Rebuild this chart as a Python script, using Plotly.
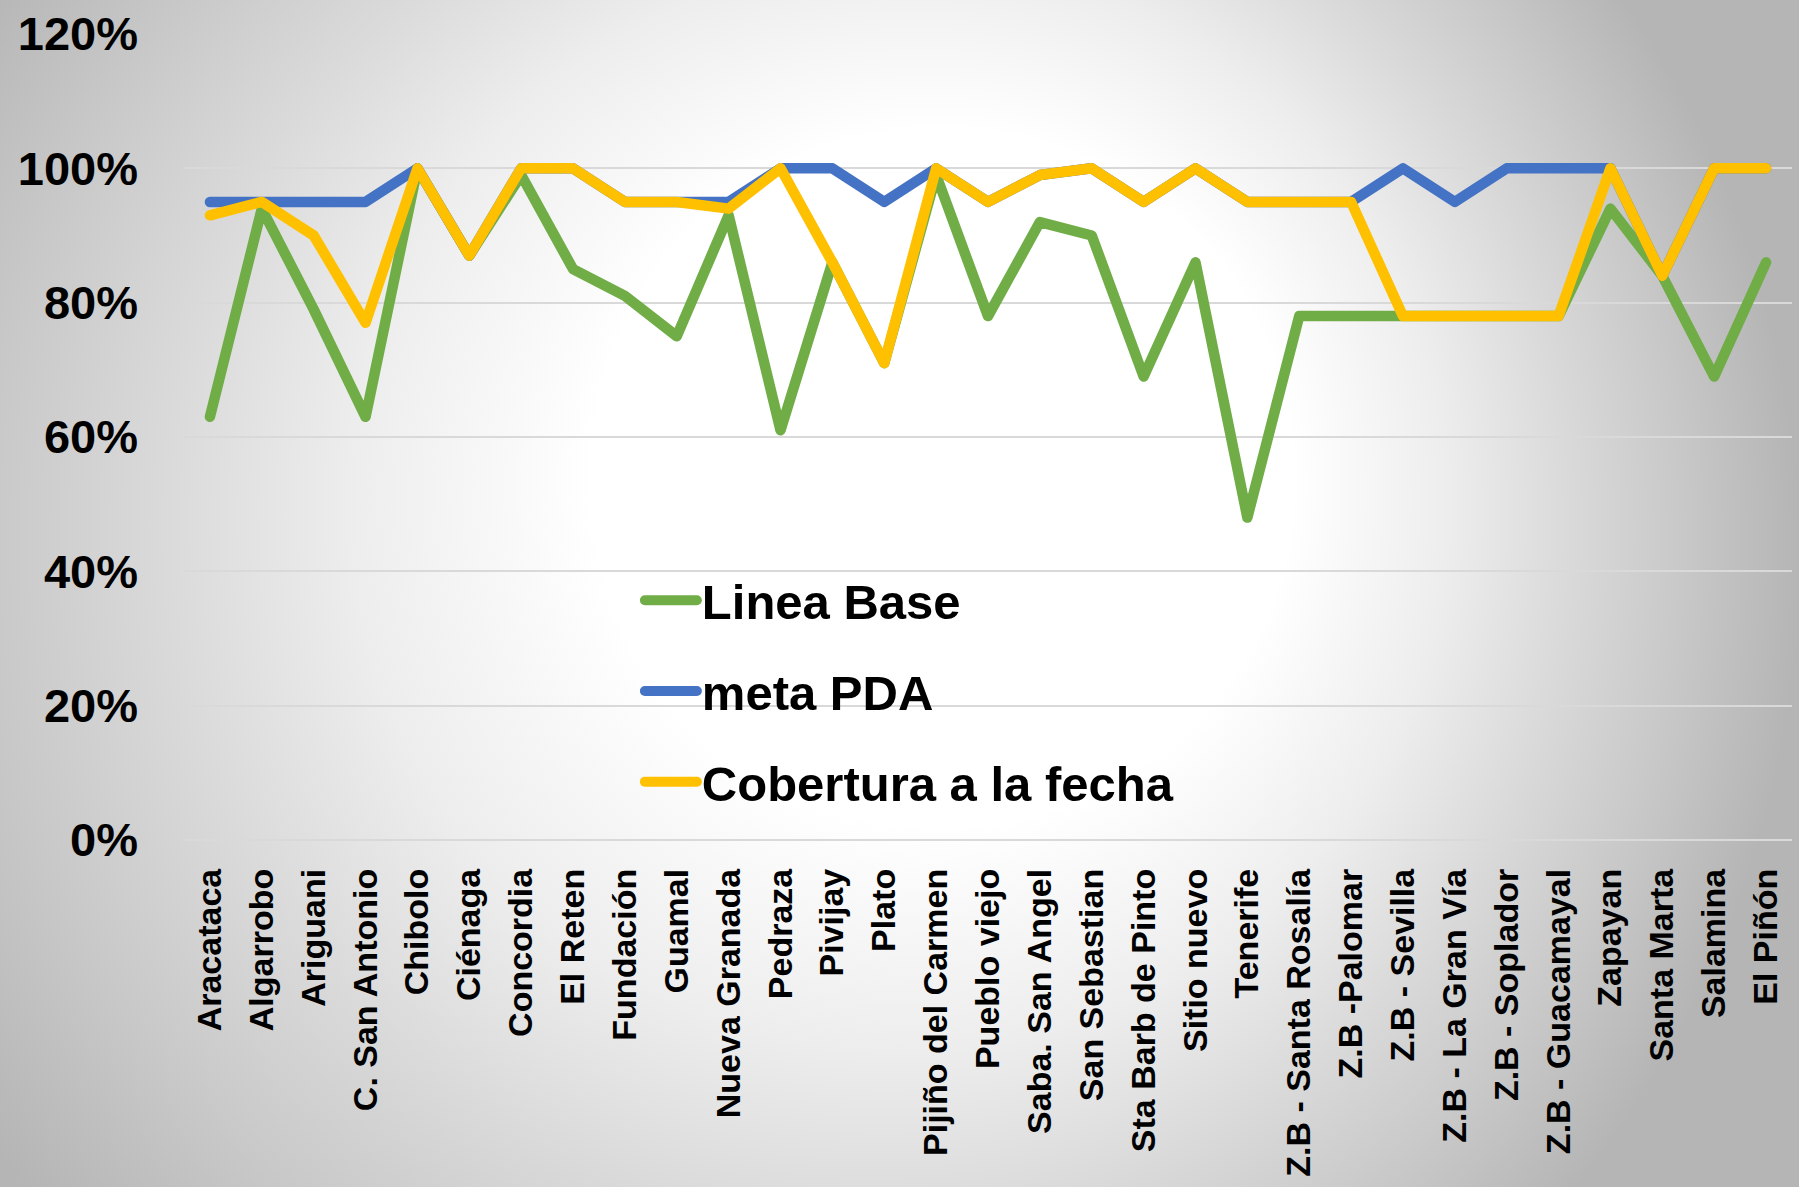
import base64
import plotly.graph_objects as go

categories = ["Aracataca", "Algarrobo", "Ariguani", "C. San Antonio", "Chibolo", "Ciénaga",
              "Concordia", "El Reten", "Fundación", "Guamal", "Nueva Granada", "Pedraza",
              "Pivijay", "Plato", "Pijiño del Carmen", "Pueblo viejo", "Saba. San Angel",
              "San Sebastian", "Sta Barb de Pinto", "Sitio nuevo", "Tenerife",
              "Z.B - Santa Rosalía", "Z.B -Palomar", "Z.B - Sevilla", "Z.B - La Gran Vía",
              "Z.B - Soplador", "Z.B - Guacamayal", "Zapayan", "Santa Marta", "Salamina",
              "El Piñón"]

linea_base = [63, 94, 79, 63, 100, 87, 99, 85, 81, 75, 93, 61, 86, 71, 99, 78, 92, 90, 69, 86,
              48, 78, 78, 78, 78, 78, 78, 94, 84, 69, 86]
meta_pda = [95, 95, 95, 95, 100, 87, 100, 100, 95, 95, 95, 100, 100, 95, 100, 95, 99, 100, 95,
            100, 95, 95, 95, 100, 95, 100, 100, 100, 84, 100, 100]
cobertura = [93, 95, 90, 77, 100, 87, 100, 100, 95, 95, 94, 100, 86, 71, 100, 95, 99, 100, 95,
             100, 95, 95, 95, 78, 78, 78, 78, 100, 84, 100, 100]

y_ticks = [0, 20, 40, 60, 80, 100, 120]

W, H = 1799, 1187
ML, MR, MT, MB = 184, 7, 29, 347
PW, PH = W - ML - MR, H - MT - MB

FONT = "Arial, 'Liberation Sans', sans-serif"

EXT = 30  # background image overhang on every side
BW, BH = W + 2 * EXT, H + 2 * EXT
svg = f'''<svg xmlns="http://www.w3.org/2000/svg" width="{BW}" height="{BH}" viewBox="0 0 {BW} {BH}" preserveAspectRatio="none">
<defs><radialGradient id="g" gradientUnits="userSpaceOnUse" cx="{800 + EXT}" cy="{560 + EXT}" r="1000" fx="{1020 + EXT}" fy="{430 + EXT}">
<stop offset="0" stop-color="#ffffff"/>
<stop offset="0.35" stop-color="#ffffff"/>
<stop offset="0.55" stop-color="#ededed"/>
<stop offset="0.70" stop-color="#dadada"/>
<stop offset="0.85" stop-color="#c8c8c8"/>
<stop offset="1" stop-color="#b5b5b5"/>
</radialGradient></defs>
<rect x="0" y="0" width="{BW}" height="{BH}" fill="url(#g)"/></svg>'''
bg_src = "data:image/svg+xml;base64," + base64.b64encode(svg.encode()).decode()

fig = go.Figure()
series = [("Linea Base", linea_base, "#70AD47"),
          ("meta PDA", meta_pda, "#4472C4"),
          ("Cobertura a la fecha", cobertura, "#FFC000")]
for i, (name, vals, col) in enumerate(series):
    fig.add_trace(go.Scatter(x=categories, y=vals, name=name, mode="lines",
                             line=dict(color=col, width=10.5), legendgroup=f"g{i}"))

fig.update_layout(
    width=W, height=H,
    margin=dict(l=ML, r=MR, t=MT, b=MB, pad=0),
    paper_bgcolor="#c8c8c8",
    plot_bgcolor="rgba(0,0,0,0)",
    font=dict(family=FONT, color="#000000", weight="bold"),
    images=[dict(source=bg_src, xref="paper", yref="paper",
                 x=-(ML + EXT) / PW, y=1 + (MT + EXT) / PH, sizex=BW / PW, sizey=BH / PH,
                 xanchor="left", yanchor="top", sizing="stretch", layer="below")],
    legend=dict(x=0.2835, y=0.345, xanchor="left", yanchor="top",
                bgcolor="rgba(0,0,0,0)", tracegroupgap=24,
                font=dict(size=49, family=FONT, color="#000000", weight="bold"),
                itemwidth=52),
    showlegend=True,
)
fig.update_xaxes(type="category", range=[-0.5, len(categories) - 0.5], tickangle=-90,
                 showgrid=False, showline=False, ticks="", ticklabelstandoff=21,
                 tickfont=dict(size=34, family=FONT, color="#000000", weight="bold"))
fig.update_yaxes(range=[0, 120], tickvals=y_ticks, ticktext=[f"{v}%" for v in y_ticks],
                 showgrid=True, gridcolor="#d9d9d9", gridwidth=2,
                 zeroline=True, zerolinecolor="#d9d9d9", zerolinewidth=2,
                 showline=False, ticks="", ticklabelstandoff=45,
                 tickfont=dict(size=47, family=FONT, color="#000000", weight="bold"))

post = """
document.body.style.margin = '0';
document.body.style.overflow = 'hidden';
var gd = document.getElementById('{plot_id}');
gd.querySelectorAll('.scatterlayer path.js-line').forEach(function(p){
  p.style.strokeLinejoin = 'round'; p.style.strokeLinecap = 'round';
});
gd.querySelectorAll('.legendlines path').forEach(function(p){
  p.style.strokeLinecap = 'round';
});
"""

fig.write_html("out.html", post_script=post, config={"displayModeBar": False})
